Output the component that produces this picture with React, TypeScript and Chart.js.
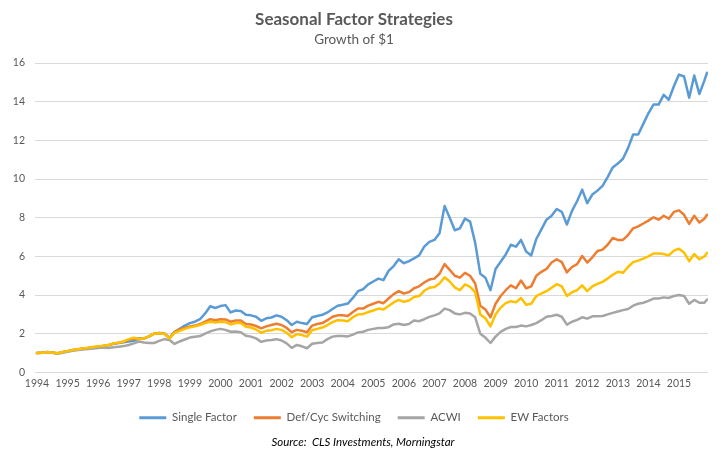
import { useEffect, useRef } from "react";
import { Chart, registerables } from "chart.js";

Chart.register(...registerables);

const TITLE = "Seasonal Factor Strategies";
const SUBTITLE = "Growth of $1";
const SOURCE = "Source:  CLS Investments, Morningstar";

const seriesNames = ["Single Factor", "Def/Cyc Switching", "ACWI", "EW Factors"];
const seriesColors = ["#5B9BD5", "#ED7D31", "#A5A5A5", "#FFC000"];

const yearTicks = [
  1994, 1995, 1996, 1997, 1998, 1999, 2000, 2001, 2002, 2003, 2004,
  2005, 2006, 2007, 2008, 2009, 2010, 2011, 2012, 2013, 2014, 2015,
];

// Observation dates: months elapsed since Jan 1994 (every second month, last = Dec 2015)
const monthOffsets = [...Array.from({ length: 132 }, (_, i) => i * 2), 263];

const singleFactor = [
  1.0, 1.02, 1.05, 1.03, 0.97, 1.04, 1.1, 1.15, 1.19, 1.22, 1.25, 1.28,
  1.32, 1.36, 1.4, 1.48, 1.52, 1.56, 1.6, 1.63, 1.76, 1.75, 1.86, 2.0,
  2.04, 2.02, 1.78, 2.1, 2.25, 2.42, 2.55, 2.62, 2.75, 3.05, 3.42, 3.33,
  3.43, 3.48, 3.1, 3.2, 3.18, 2.98, 2.95, 2.88, 2.67, 2.8, 2.84, 2.95,
  2.88, 2.7, 2.45, 2.62, 2.55, 2.5, 2.85, 2.92, 2.98, 3.1, 3.28, 3.45,
  3.5, 3.56, 3.85, 4.2, 4.3, 4.55, 4.7, 4.85, 4.77, 5.25, 5.5, 5.85,
  5.65, 5.75, 5.9, 6.05, 6.5, 6.75, 6.85, 7.2, 8.6, 8.0, 7.35, 7.45,
  7.95, 7.8, 6.7, 5.1, 4.9, 4.25, 5.35, 5.72, 6.1, 6.6, 6.5, 6.85,
  6.25, 6.05, 6.9, 7.4, 7.9, 8.1, 8.45, 8.3, 7.65, 8.35, 8.85, 9.45,
  8.75, 9.2, 9.4, 9.65, 10.1, 10.6, 10.8, 11.05, 11.6, 12.3, 12.3, 12.85,
  13.4, 13.85, 13.85, 14.35, 14.1, 14.8, 15.4, 15.3, 14.2, 15.35, 14.4, 15.1,
  15.5,
];

const defCycSwitching = [
  1.0, 1.02, 1.04, 1.03, 0.99, 1.05, 1.1, 1.16, 1.2, 1.23, 1.26, 1.3,
  1.33, 1.37, 1.41, 1.49, 1.53, 1.58, 1.68, 1.76, 1.72, 1.76, 1.86, 2.0,
  2.04, 2.0, 1.77, 2.08, 2.22, 2.3, 2.38, 2.42, 2.5, 2.62, 2.75, 2.7,
  2.75, 2.74, 2.62, 2.68, 2.68, 2.5, 2.48, 2.4, 2.28, 2.38, 2.45, 2.52,
  2.45, 2.3, 2.08, 2.2, 2.15, 2.08, 2.42, 2.5, 2.55, 2.7, 2.88, 2.95,
  2.95, 2.92, 3.12, 3.3, 3.3, 3.45, 3.55, 3.65, 3.58, 3.82, 4.05, 4.2,
  4.08, 4.15, 4.35, 4.45, 4.65, 4.8, 4.85, 5.1, 5.6, 5.3, 5.0, 4.9,
  5.15, 5.0, 4.6, 3.45, 3.25, 2.85, 3.55, 3.95, 4.25, 4.5, 4.35, 4.75,
  4.35, 4.45, 5.0, 5.2, 5.35, 5.68, 5.85, 5.7, 5.17, 5.45, 5.6, 6.02,
  5.68, 5.95, 6.28, 6.35, 6.6, 6.95, 6.85, 6.85, 7.1, 7.45, 7.55, 7.7,
  7.85, 8.02, 7.9, 8.1, 7.95, 8.3, 8.38, 8.15, 7.68, 8.1, 7.75, 7.95,
  8.15,
];

const acwi = [
  1.0, 1.02, 1.05, 1.01, 0.96, 1.02, 1.07, 1.12, 1.16, 1.19, 1.21, 1.23,
  1.26, 1.29, 1.26, 1.3, 1.33, 1.36, 1.42, 1.5, 1.6, 1.55, 1.52, 1.52,
  1.63, 1.72, 1.68, 1.47, 1.6, 1.7, 1.8, 1.84, 1.88, 2.0, 2.12, 2.2,
  2.25, 2.2, 2.1, 2.12, 2.08, 1.9, 1.85, 1.76, 1.58, 1.65, 1.68, 1.72,
  1.65, 1.5, 1.27, 1.42, 1.35, 1.25, 1.48, 1.52, 1.55, 1.72, 1.85, 1.88,
  1.88, 1.86, 1.95, 2.07, 2.1, 2.2, 2.25, 2.3, 2.3, 2.34, 2.48, 2.52,
  2.45, 2.5, 2.68, 2.65, 2.75, 2.87, 2.95, 3.05, 3.3, 3.22, 3.05, 3.0,
  3.08, 3.05, 2.85, 2.0, 1.8, 1.52, 1.85, 2.1, 2.25, 2.35, 2.35, 2.42,
  2.38, 2.45, 2.55, 2.7, 2.88, 2.92, 2.98, 2.88, 2.47, 2.62, 2.72, 2.85,
  2.78, 2.9, 2.9, 2.92, 3.0, 3.08, 3.15, 3.22, 3.28, 3.45, 3.55, 3.6,
  3.7, 3.82, 3.82, 3.88, 3.85, 3.95, 4.0, 3.95, 3.55, 3.75, 3.6, 3.6,
  3.77,
];

const ewFactors = [
  1.0, 1.02, 1.04, 1.03, 0.99, 1.05, 1.1, 1.16, 1.2, 1.24, 1.28, 1.31,
  1.35, 1.38, 1.42, 1.5, 1.54, 1.6, 1.72, 1.8, 1.73, 1.76, 1.86, 2.0,
  2.03, 2.0, 1.76, 2.05, 2.15, 2.25, 2.33, 2.38, 2.45, 2.55, 2.62, 2.58,
  2.62, 2.6, 2.48, 2.55, 2.55, 2.36, 2.32, 2.22, 2.05, 2.15, 2.18, 2.25,
  2.2, 2.05, 1.82, 1.98, 1.93, 1.85, 2.18, 2.25, 2.32, 2.45, 2.6, 2.7,
  2.68, 2.65, 2.85, 3.0, 3.02, 3.12, 3.2, 3.3, 3.25, 3.43, 3.62, 3.75,
  3.65, 3.72, 3.9, 3.95, 4.22, 4.38, 4.42, 4.6, 4.92, 4.7, 4.4, 4.25,
  4.55, 4.42, 4.15, 3.0, 2.8, 2.38, 3.0, 3.35, 3.58, 3.68, 3.62, 3.85,
  3.5, 3.55, 3.95, 4.08, 4.2, 4.38, 4.56, 4.45, 3.95, 4.15, 4.25, 4.5,
  4.2, 4.45, 4.58, 4.68, 4.85, 5.05, 5.2, 5.15, 5.45, 5.7, 5.78, 5.88,
  6.0, 6.15, 6.15, 6.12, 6.05, 6.3, 6.4, 6.2, 5.75, 6.12, 5.85, 6.0,
  6.18,
];

const seriesValues = [singleFactor, defCycSwitching, acwi, ewFactors];
const drawOrder = [4, 3, 2, 1]; // EW Factors painted on top

const FONT = "Lato, 'Liberation Sans', sans-serif";
const TEXT_COLOR = "#595959";

const X_MIN = 1994 - 2 / 30.57;
const X_MAX = 1994 + 263 / 12 + 1 / 30.57;

export default function App() {
  const canvasRef = useRef<HTMLCanvasElement | null>(null);

  useEffect(() => {
    const canvas = canvasRef.current;
    if (!canvas) return;

    const sourcePlugin = {
      id: "sourceNote",
      afterDraw(chart: any) {
        const ctx = chart.ctx;
        ctx.save();
        ctx.font = `italic 11.5px ${FONT}`;
        ctx.fillStyle = "#000000";
        ctx.textAlign = "center";
        ctx.textBaseline = "middle";
        ctx.fillText(SOURCE, 363, 442);
        ctx.restore();
      },
    };

    const chart = new Chart(canvas, {
      type: "line",
      data: {
        datasets: seriesNames.map((name, i) => ({
          label: name,
          data: monthOffsets.map((m, j) => ({ x: 1994 + m / 12, y: seriesValues[i][j] })),
          borderColor: seriesColors[i],
          backgroundColor: seriesColors[i],
          borderWidth: 2.5,
          pointRadius: 0,
          pointHoverRadius: 0,
          tension: 0,
          fill: false,
          order: drawOrder[i],
          borderJoinStyle: "round" as const,
          borderCapStyle: "round" as const,
        })),
      },
      options: {
        animation: false,
        responsive: false,
        maintainAspectRatio: false,
        layout: { padding: { left: 0, right: 18, top: 0, bottom: 18.5 } },
        plugins: {
          title: {
            display: true,
            text: TITLE,
            color: TEXT_COLOR,
            font: { family: FONT, size: 17, weight: "bold" },
            padding: { top: 9, bottom: 2 },
          },
          subtitle: {
            display: true,
            text: SUBTITLE,
            color: TEXT_COLOR,
            font: { family: FONT, size: 13.5 },
            padding: { top: 0, bottom: 15.4 },
          },
          legend: {
            position: "bottom",
            labels: {
              boxWidth: 27,
              boxHeight: 3,
              padding: 17,
              color: TEXT_COLOR,
              font: { family: FONT, size: 11.5 },
              sort: (a: any, b: any) => a.datasetIndex - b.datasetIndex,
              generateLabels: (ch: any) =>
                Chart.defaults.plugins.legend.labels
                  .generateLabels(ch)
                  .map((l: any) => ({ ...l, lineWidth: 0 })),
            },
          },
          tooltip: { enabled: false },
        },
        scales: {
          x: {
            type: "linear",
            min: X_MIN,
            max: X_MAX,
            grid: { display: false, drawTicks: false },
            border: { display: false },
            afterBuildTicks: (axis: any) => {
              axis.ticks = yearTicks.map((v) => ({ value: v }));
            },
            ticks: {
              color: TEXT_COLOR,
              font: { family: FONT, size: 10.5 },
              padding: 5,
              autoSkip: false,
              maxRotation: 0,
              minRotation: 0,
              callback: (v: any) => String(v),
            },
          },
          y: {
            min: 0,
            max: 16,
            grid: { color: "#D9D9D9", lineWidth: 1, drawTicks: false },
            border: { display: false },
            afterFit: (s: any) => {
              s.width = 35;
            },
            ticks: {
              stepSize: 2,
              color: TEXT_COLOR,
              font: { family: FONT, size: 10.5 },
              padding: 10,
            },
          },
        },
      },
      plugins: [sourcePlugin],
    });

    return () => chart.destroy();
  }, []);

  return (
    <div
      style={{
        position: "absolute",
        left: 0,
        top: 0,
        width: 726,
        height: 452,
        background: "#ffffff",
      }}
    >
      <canvas ref={canvasRef} width={726} height={452} style={{ display: "block" }} />
    </div>
  );
}
